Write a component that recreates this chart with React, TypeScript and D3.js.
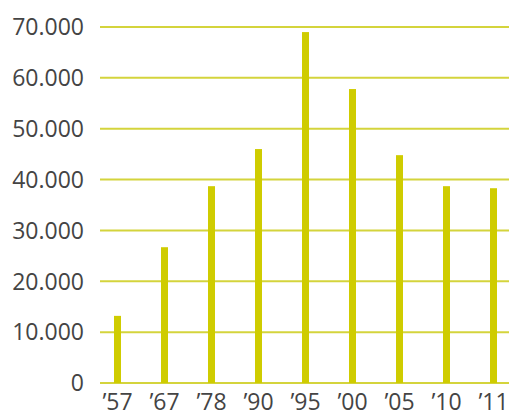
import React from "react";
import * as d3 from "d3";

const categories = ["\u201957", "\u201967", "\u201978", "\u201990", "\u201995", "\u201900", "\u201905", "\u201910", "\u201911"];
const values = [13200, 26700, 38700, 46000, 69000, 57800, 44800, 38700, 38300];
const yTicks = [0, 10000, 20000, 30000, 40000, 50000, 60000, 70000];

const W = 509;
const H = 417;
const BAR_W = 7;

export default function App() {
  const y = d3.scaleLinear().domain([0, 70000]).range([383, 27]);
  const x = d3.scalePoint<string>().domain(categories).range([117.5, 493.5]);
  const fmt = (v: number) => (v === 0 ? "0" : d3.format(",")(v).replace(/,/g, "."));
  return (
    <svg width={W} height={H} style={{ position: "absolute", left: 0, top: 0 }}>
      <g>
        {yTicks.map((t) => (
          <line key={t} x1={100} x2={W} y1={y(t)} y2={y(t)} stroke="#d4d43c" strokeWidth={2} />
        ))}
      </g>
      <g>
        {categories.map((c, i) => (
          <rect key={c} x={x(c)! - BAR_W / 2} width={BAR_W} y={y(values[i])} height={y(0) - y(values[i])} fill="#cfcc00" />
        ))}
      </g>
      <g fontFamily="'Open Sans', sans-serif" fontSize={23} fill="#444">
        {yTicks.map((t) => (
          <text key={t} x={84} y={y(t)} dy="0.36em" textAnchor="end">{fmt(t)}</text>
        ))}
        {categories.map((c) => (
          <text key={c} x={x(c)!} y={410} textAnchor="middle">{c}</text>
        ))}
      </g>
    </svg>
  );
}
